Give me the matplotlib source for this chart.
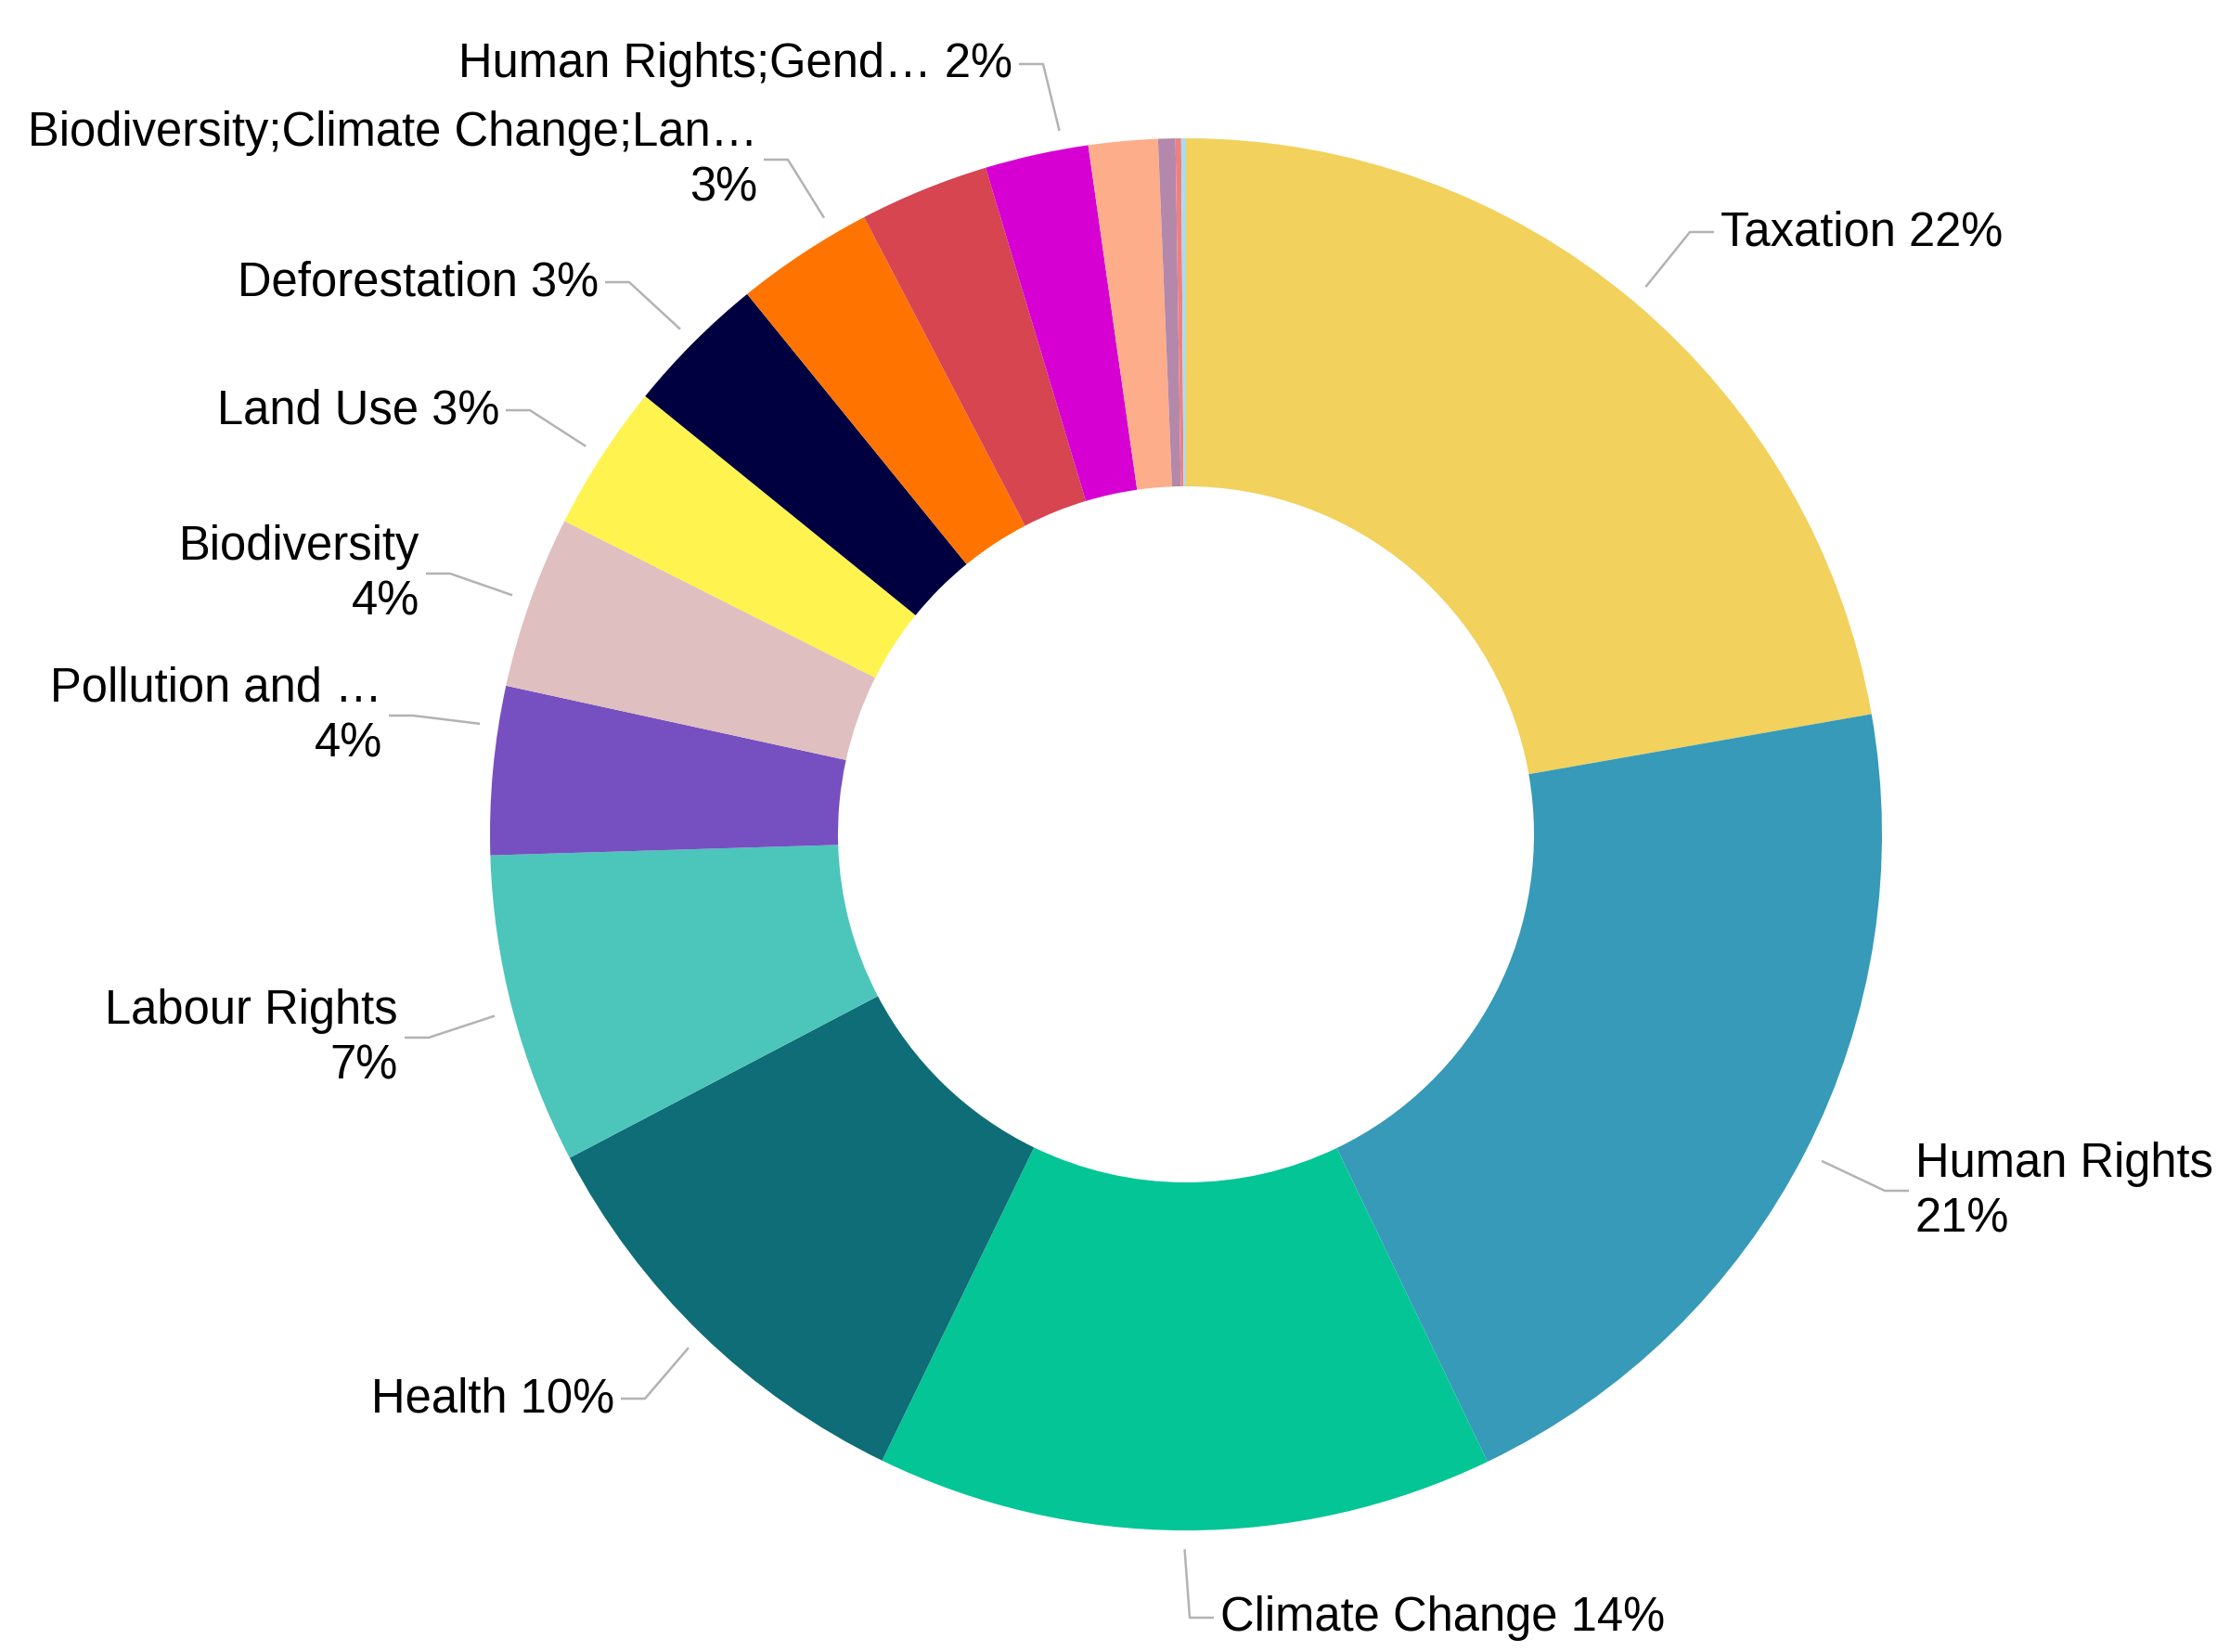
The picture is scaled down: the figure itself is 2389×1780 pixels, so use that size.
import numpy as np
import matplotlib
matplotlib.use("Agg")
import matplotlib.pyplot as plt

plt.rcParams['font.family'] = ['Liberation Sans', 'DejaVu Sans']

# ---- data (clockwise from 12 o'clock) ----
categories = ["Taxation", "Human Rights", "Climate Change", "Health", "Labour Rights",
              "Pollution and …", "Biodiversity", "Land Use", "Deforestation",
              "Biodiversity;Climate Change;Lan…", "Other A", "Human Rights;Gend…",
              "Other B", "Other C", "Other D", "Other E"]
shares = [22.2, 20.6, 14.3, 10.1, 7.2, 3.9, 4.0, 3.4, 3.3, 3.2, 3.0, 2.4, 1.6, 0.4, 0.13, 0.11]
pct_labels = ["22%", "21%", "14%", "10%", "7%", "4%", "4%", "3%", "3%", "3%", "", "2%", "", "", "", ""]
colors = ["#F2D15C", "#369AB8", "#04C596", "#0E6D76", "#4CC5BB", "#7650C1", "#DFBFBF",
          "#FFF44F", "#000040", "#FF7300", "#D64550", "#D600D2", "#FDAD8A", "#B388AA",
          "#F08080", "#A8DDEF"]
show_label = [True, True, True, True, True, True, True, True, True, True, False, True,
              False, False, False, False]
two_line = [False, True, False, False, True, True, True, False, False, True, False, False,
            False, False, False, False]

# ---- layout (pixel space) ----
W, H = 2389, 1781
cx, cy_img = 1278, 900
R = 750
# elbow x, elbow y (image coords), side, angular nudge of leader end (deg)
elbows = {0: (1821, 251, 'r', 0), 1: (2031, 1284, 'r', 0), 2: (1282, 1744, 'r', 0),
          3: (695, 1508, 'l', 0), 4: (462, 1119, 'l', 0), 5: (445, 772, 'l', 3.6),
          6: (485, 619, 'l', 0), 7: (571, 443, 'l', 0), 8: (678, 305, 'l', 0),
          9: (849, 173, 'l', 2.9), 11: (1124, 70, 'l', 2.2)}

fig = plt.figure(figsize=(W / 100, H / 100), dpi=100)
ax = fig.add_axes([0, 0, 1, 1])
wedges, _ = ax.pie(shares, colors=colors, startangle=90, counterclock=False,
                   radius=R, center=(cx, H - cy_img),
                   wedgeprops=dict(width=R * 0.5, linewidth=0))
ax.set_xlim(0, W)
ax.set_ylim(0, H)
ax.set_aspect('equal')
ax.axis('off')

total = sum(shares)
cum = 0.0
for i, v in enumerate(shares):
    mid = (cum + v / 2) / total * 2 * np.pi
    cum += v
    if not show_label[i]:
        continue
    ex, ey_img, side, nudge = elbows[i]
    a = mid + np.deg2rad(nudge)
    sx = cx + 1.027 * R * np.sin(a)
    sy = H - (cy_img - 1.027 * R * np.cos(a))
    ey = H - ey_img
    hx = ex + 26 if side == 'r' else ex - 26
    ax.plot([sx, ex, hx], [sy, ey, ey], color='#b3b3b3', lw=1.8, solid_capstyle='butt')
    sep = "\n" if two_line[i] else " "
    txt = categories[i] + sep + pct_labels[i]
    tx = hx + 7 if side == 'r' else hx - 7
    ax.text(tx, ey, txt, ha='left' if side == 'r' else 'right', va='center',
            fontsize=36.5, color='black', linespacing=1.28,
            multialignment='left' if side == 'r' else 'right')

fig.savefig("out.png", dpi=100, facecolor='white')
